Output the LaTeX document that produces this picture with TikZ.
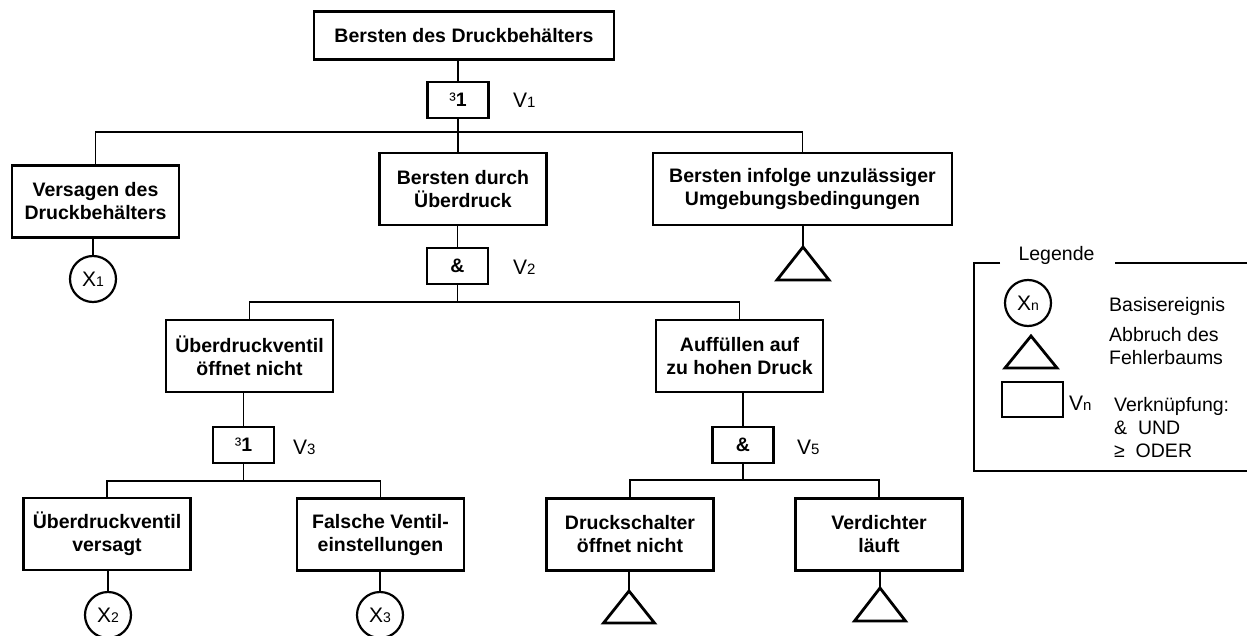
\documentclass[tikz,border=0pt]{standalone}
\usepackage{fontspec}
\setmainfont{Liberation Sans}
\begin{document}
\begin{tikzpicture}[x=1pt,y=-1pt,
  event/.style={draw,line width=2.6pt,minimum height=72pt,minimum width=167pt,
    align=center,inner sep=0pt,font=\fontsize{19.5}{23}\selectfont\bfseries},
  gate/.style={draw,line width=2.6pt,minimum width=61pt,minimum height=36pt,
    inner sep=0pt,font=\fontsize{19.5}{23}\selectfont\bfseries},
  basic/.style={circle,draw,line width=2.2pt,minimum size=46pt,inner sep=0pt,
    font=\fontsize{21}{21}\selectfont},
  vlabel/.style={anchor=west,inner sep=0pt,font=\fontsize{21}{21}\selectfont},
  conn/.style={line width=1.5pt},
  cut/.style={line width=2.8pt},
  legtext/.style={anchor=west,inner sep=0pt,align=left,
    font=\fontsize{19.5}{23}\selectfont}]
\useasboundingbox (0,0) rectangle (1247,636);

% tree nodes
\node[event,minimum width=300pt,minimum height=48pt] (top) at (464,35.5) {Bersten des Druckbehälters};
\node[gate] (g1) at (458,100) {{\mdseries ³}1};
\node[vlabel] (v1) at (513,100) {V{\fontsize{15}{15}\selectfont 1}};

\node[event] (A) at (95.5,201.5) {Versagen des\\Druckbehälters};
\node[event] (B) at (463,189) {Bersten durch\\Überdruck};
\node[event,minimum width=299pt] (C) at (802.5,189) {Bersten infolge unzulässiger\\Umgebungsbedingungen};

\node[basic] (X1) at (93,279) {X{\fontsize{14}{14}\selectfont 1}};
\coordinate (T1) at (803,247);

\node[gate] (g2) at (457.5,266) {\&};
\node[vlabel] (v2) at (513,267) {V{\fontsize{15}{15}\selectfont 2}};

\node[event] (D) at (249.5,356) {Überdruckventil\\öffnet nicht};
\node[event] (E) at (739.5,356) {Auffüllen auf\\zu hohen Druck};

\node[gate] (g3) at (243.5,445) {{\mdseries ³}1};
\node[vlabel] (v3) at (293,447) {V{\fontsize{15}{15}\selectfont 3}};
\node[gate] (g5) at (743,445) {\&};
\node[vlabel] (v5) at (797,447) {V{\fontsize{15}{15}\selectfont 5}};

\node[event] (F) at (107,534) {Überdruckventil\\versagt};
\node[event] (G) at (380.5,534.5) {Falsche Ventil-\\einstellungen};
\node[event] (H) at (630,534.5) {Druckschalter\\öffnet nicht};
\node[event] (I) at (879,534.5) {Verdichter\\läuft};

\node[basic] (X2) at (108,615) {X{\fontsize{14}{14}\selectfont 2}};
\node[basic] (X3) at (380,615) {X{\fontsize{14}{14}\selectfont 3}};
\coordinate (T2) at (629,591);
\coordinate (T3) at (880,588);

% bus points
\coordinate (b1) at (458,132);
\coordinate (b2) at (457.5,302);
\coordinate (b3) at (243.5,481);
\coordinate (b5) at (743,480);

% connectors
\draw[conn] (g1.north |- top.south) -- (g1.north);
\draw[conn] (g1.south) -- (b1);
\draw[conn] (A.north) |- (b1) -| (C.north);
\draw[conn] (b1) -- (b1 |- B.north);
\draw[conn] (A.south -| X1.north) -- (X1.north);
\draw[conn] (C.south -| T1) -- (T1);

\draw[conn] (g2.north |- B.south) -- (g2.north);
\draw[conn] (g2.south) -- (b2);
\draw[conn] (D.north) |- (b2) -| (E.north);

\draw[conn] (g3.north |- D.south) -- (g3.north);
\draw[conn] (g5.north |- E.south) -- (g5.north);
\draw[conn] (g3.south) -- (b3);
\draw[conn] (F.north) |- (b3) -| (G.north);
\draw[conn] (g5.south) -- (b5);
\draw[conn] (H.north) |- (b5) -| (I.north);

\draw[conn] (F.south -| X2.north) -- (X2.north);
\draw[conn] (G.south -| X3.north) -- (X3.north);
\draw[conn] (H.south -| T2) -- (T2);
\draw[conn] (I.south -| T3) -- (T3);

% tree cut-off triangles
\draw[cut] (T1) -- ++(26,33) -- ++(-52,0) -- cycle;
\draw[cut] (T2) -- ++(25.5,32) -- ++(-51,0) -- cycle;
\draw[cut] (T3) -- ++(25.5,33) -- ++(-51,0) -- cycle;

% legend frame
\node[inner sep=0pt,font=\fontsize{19.5}{23}\selectfont] (leg) at (1056.5,255) {Legende};
\draw[line width=1.3pt] (1000,263) -- (974,263) -- (974,471) -- (1247,471);
\draw[line width=1.3pt] (1115,263) -- (1247,263);

% legend symbols
\node[basic] (lx) at (1028,303) {X{\fontsize{14}{14}\selectfont n}};
\coordinate (lt) at (1031,336);
\draw[cut] (lt) -- ++(26,32) -- ++(-52,0) -- cycle;
\node[draw,line width=2.6pt,minimum width=61pt,minimum height=35pt,inner sep=0pt] (lr) at (1032.5,399.5) {};
\node[vlabel] (lv) at (1069,403) {V{\fontsize{15}{15}\selectfont n}};

\node[legtext] (l1) at (1109,306) {Basisereignis};
\node[legtext] (l2) at (1109,346) {Abbruch des\\Fehlerbaums};
\node[legtext] (l3) at (1114,428) {Verknüpfung:\\\&\ \ UND\\≥\ \ ODER};
\end{tikzpicture}
\end{document}
